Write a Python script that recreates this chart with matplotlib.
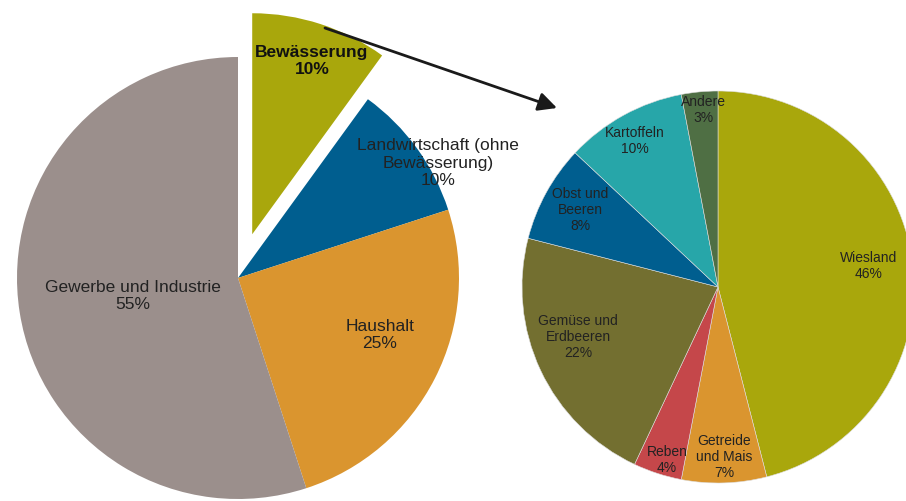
import matplotlib.pyplot as plt

# left pie: total water use
left_labels = ["Bewässerung\n10%", "Landwirtschaft (ohne\nBewässerung)\n10%",
               "Haushalt\n25%", "Gewerbe und Industrie\n55%"]
left_values = [10, 10, 25, 55]
left_colors = ["#A9A70C", "#005E8F", "#DA952F", "#9B8F8C"]

# right pie: breakdown of irrigation
right_labels = ["Wiesland\n46%", "Getreide\nund Mais\n7%", "Reben\n4%",
                "Gemüse und\nErdbeeren\n22%", "Obst und\nBeeren\n8%",
                "Kartoffeln\n10%", "Andere\n3%"]
right_values = [46, 7, 4, 22, 8, 10, 3]
right_colors = ["#A9A70C", "#DA952F", "#C5474A", "#736F30", "#005E8F",
                "#27A6A9", "#4F6F44"]

W, H = 906, 501

plt.rcParams['font.family'] = ['Liberation Sans', 'DejaVu Sans']

fig = plt.figure(figsize=(W / 100, H / 100), dpi=100)
ax = fig.add_axes([0, 0, 1, 1])


def py(y):
    # pixel row -> data y
    return H - y


# explode is in data units here (pixels), not a fraction of the radius
ax.pie(left_values, colors=left_colors, explode=[46, 0, 0, 0], startangle=90,
       counterclock=False, center=(238, py(278)), radius=221,
       wedgeprops=dict(linewidth=0), frame=True)
ax.pie(right_values, colors=right_colors, startangle=90, counterclock=False,
       center=(718, py(287)), radius=196,
       wedgeprops=dict(linewidth=0.4, edgecolor="#dddddd"), frame=True)
ax.set_xlim(0, W)
ax.set_ylim(0, H)
ax.set_aspect('equal')
ax.axis('off')

txt = "#222222"
left_pos = [(312, 61), (438, 163), (380, 335), (133, 296)]
for lab, (x, y) in zip(left_labels, left_pos):
    bold = lab.startswith("Bew")
    ax.text(x, py(y), lab, ha="center", va="center", fontsize=12.5,
            fontweight="bold" if bold else "normal",
            color="#111111" if bold else txt, linespacing=1.22)

right_pos = [(869, 266), (724, 457), (667, 460), (578, 337), (580, 210),
             (635, 141), (703, 110)]
for lab, (x, y) in zip(right_labels, right_pos):
    ax.text(x, py(y), lab, ha="center", va="center", fontsize=10, color=txt,
            linespacing=1.22)

ax.annotate("", xy=(557, py(108)), xytext=(325, py(28)),
            arrowprops=dict(arrowstyle="-|>", color="#1a1a1a", lw=2,
                            mutation_scale=28, shrinkA=0, shrinkB=0))

fig.savefig("out.png", dpi=100)
